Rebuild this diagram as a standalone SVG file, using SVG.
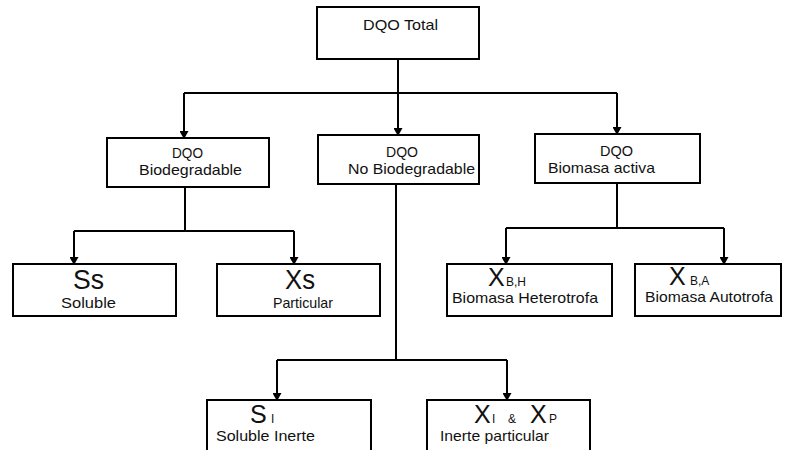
<svg xmlns="http://www.w3.org/2000/svg" width="785" height="450" viewBox="0 0 785 450">
<defs>
<style>
.box{fill:#fff;stroke:#000;stroke-width:2}
.ln{fill:none;stroke:#000;stroke-width:2}
.arr{fill:none;stroke:#000;stroke-width:2;marker-end:url(#ah)}
text{font-family:"Liberation Sans",Arial,sans-serif;fill:#111}
.t{font-size:15px}
.big{font-size:27px}
.bx{font-size:25px}
.sub{font-size:12px}
</style>
<marker id="ah" markerUnits="userSpaceOnUse" markerWidth="8" markerHeight="9" refX="7" refY="4.5" orient="auto">
<path d="M0,0 L8,4.5 L0,9 z" fill="#000"/>
</marker>
</defs>
<rect width="785" height="450" fill="#fff"/>
<g id="connectors">
<path class="ln" d="M398,59 V93 M184,93 H617"/>
<path class="arr" d="M184,93 V138"/>
<path class="arr" d="M398,93 V135"/>
<path class="arr" d="M617,93 V134"/>
<path class="ln" d="M185,187 V231 M74,231 H294"/>
<path class="arr" d="M74,231 V264"/>
<path class="arr" d="M294,231 V264"/>
<path class="ln" d="M617,183 V228 M506,228 H724"/>
<path class="arr" d="M506,228 V264"/>
<path class="arr" d="M724,228 V264"/>
<path class="ln" d="M396,184 V360 M277,360 H507"/>
<path class="arr" d="M277,360 V400"/>
<path class="arr" d="M507,360 V400"/>
</g>
<g id="dqo-total">
<rect class="box" x="317" y="7" width="162" height="52"/>
<text class="t" x="363" y="30" textLength="75" lengthAdjust="spacingAndGlyphs">DQO Total</text>
</g>
<g id="dqo-biodegradable">
<rect class="box" x="107" y="138" width="162" height="49"/>
<text class="t" x="172" y="158" textLength="31" lengthAdjust="spacingAndGlyphs">DQO</text>
<text class="t" x="139" y="175" textLength="103" lengthAdjust="spacingAndGlyphs">Biodegradable</text>
</g>
<g id="dqo-no-biodegradable">
<rect class="box" x="318" y="135" width="161" height="49"/>
<text class="t" x="386" y="157" textLength="32" lengthAdjust="spacingAndGlyphs">DQO</text>
<text class="t" x="348" y="174" textLength="127" lengthAdjust="spacingAndGlyphs">No Biodegradable</text>
</g>
<g id="dqo-biomasa-activa">
<rect class="box" x="535" y="134" width="165" height="49"/>
<text class="t" x="600" y="156" textLength="33" lengthAdjust="spacingAndGlyphs">DQO</text>
<text class="t" x="548" y="173" textLength="107" lengthAdjust="spacingAndGlyphs">Biomasa activa</text>
</g>
<g id="ss">
<rect class="box" x="13" y="264" width="163" height="52"/>
<text class="big" x="73" y="289" textLength="31" lengthAdjust="spacingAndGlyphs">Ss</text>
<text class="t" x="61" y="308" textLength="55" lengthAdjust="spacingAndGlyphs">Soluble</text>
</g>
<g id="xs">
<rect class="box" x="217" y="264" width="163" height="52"/>
<text class="big" x="285" y="289" textLength="30" lengthAdjust="spacingAndGlyphs">Xs</text>
<text class="t" x="273" y="308" textLength="60" lengthAdjust="spacingAndGlyphs">Particular</text>
</g>
<g id="xbh">
<rect class="box" x="447" y="264" width="165" height="52"/>
<text y="286"><tspan class="bx" x="488">X</tspan><tspan class="sub" x="506">B,H</tspan></text>
<text class="t" x="452" y="303" textLength="146" lengthAdjust="spacingAndGlyphs">Biomasa Heterotrofa</text>
</g>
<g id="xba">
<rect class="box" x="635" y="264" width="146" height="52"/>
<text y="285"><tspan class="bx" x="669">X</tspan><tspan class="sub" x="690">B,A</tspan></text>
<text class="t" x="645" y="302" textLength="128" lengthAdjust="spacingAndGlyphs">Biomasa Autotrofa</text>
</g>
<g id="si">
<rect class="box" x="207" y="400" width="164" height="60"/>
<text y="423"><tspan class="bx" x="250">S</tspan><tspan class="sub" x="271">I</tspan></text>
<text class="t" x="216" y="441" textLength="99" lengthAdjust="spacingAndGlyphs">Soluble Inerte</text>
</g>
<g id="xi-xp">
<rect class="box" x="427" y="400" width="163" height="60"/>
<text y="423"><tspan class="bx" x="474">X</tspan><tspan class="sub" x="492">I</tspan><tspan class="sub" x="508">&amp;</tspan><tspan class="bx" x="530">X</tspan><tspan class="sub" x="549">P</tspan></text>
<text class="t" x="440" y="441" textLength="109" lengthAdjust="spacingAndGlyphs">Inerte particular</text>
</g>
</svg>
